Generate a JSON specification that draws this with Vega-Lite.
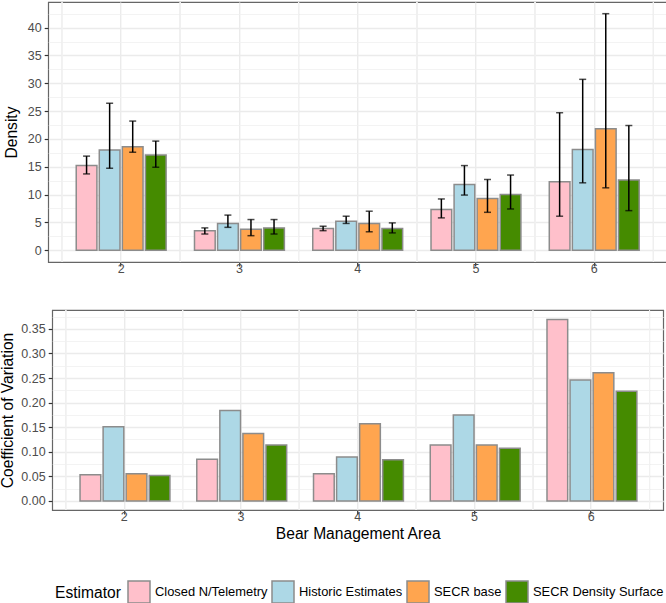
{
  "$schema": "https://vega.github.io/schema/vega-lite/v6.json",
  "padding": {"left": 0, "top": 1, "right": 2, "bottom": 0},
  "background": "white",
  "spacing": 33,
  "center": true,
  "bounds": "full",
  "config": {
    "font": "Liberation Sans",
    "view": {"stroke": "#666666", "strokeWidth": 1.2},
    "axis": {
      "labelFont": "Liberation Sans",
      "labelFontSize": 12.5,
      "labelColor": "#4D4D4D",
      "labelOverlap": false,
      "titleFont": "Liberation Sans",
      "titleFontSize": 15.6,
      "titleFontWeight": "normal",
      "titleColor": "#000000",
      "domain": false,
      "tickColor": "#333333",
      "tickSize": 4,
      "tickWidth": 1.2,
      "gridColor": "#EBEBEB",
      "gridWidth": 1.4
    },
    "legend": {
      "labelFont": "Liberation Sans",
      "titleFont": "Liberation Sans"
    }
  },
  "data": {
    "values": [
      {"bma": "2", "est": "Closed N/Telemetry", "density": 15.2, "lo": 13.7, "hi": 16.9, "cv": 0.053},
      {"bma": "2", "est": "Historic Estimates", "density": 18.0, "lo": 14.7, "hi": 26.4, "cv": 0.151},
      {"bma": "2", "est": "SECR base", "density": 18.6, "lo": 17.6, "hi": 23.2, "cv": 0.0555},
      {"bma": "2", "est": "SECR Density Surface", "density": 17.1, "lo": 14.9, "hi": 19.6, "cv": 0.0515},
      {"bma": "3", "est": "Closed N/Telemetry", "density": 3.5, "lo": 2.9, "hi": 4.0, "cv": 0.0846},
      {"bma": "3", "est": "Historic Estimates", "density": 4.8, "lo": 4.1, "hi": 6.3, "cv": 0.184},
      {"bma": "3", "est": "SECR base", "density": 3.75, "lo": 2.6, "hi": 5.5, "cv": 0.137},
      {"bma": "3", "est": "SECR Density Surface", "density": 4.0, "lo": 2.9, "hi": 5.5, "cv": 0.114},
      {"bma": "4", "est": "Closed N/Telemetry", "density": 3.9, "lo": 3.5, "hi": 4.3, "cv": 0.0555},
      {"bma": "4", "est": "Historic Estimates", "density": 5.2, "lo": 4.8, "hi": 6.1, "cv": 0.0894},
      {"bma": "4", "est": "SECR base", "density": 4.8, "lo": 3.3, "hi": 7.0, "cv": 0.157},
      {"bma": "4", "est": "SECR Density Surface", "density": 3.9, "lo": 3.1, "hi": 4.9, "cv": 0.084},
      {"bma": "5", "est": "Closed N/Telemetry", "density": 7.3, "lo": 5.8, "hi": 9.2, "cv": 0.114},
      {"bma": "5", "est": "Historic Estimates", "density": 11.8, "lo": 9.9, "hi": 15.2, "cv": 0.175},
      {"bma": "5", "est": "SECR base", "density": 9.3, "lo": 6.8, "hi": 12.7, "cv": 0.114},
      {"bma": "5", "est": "SECR Density Surface", "density": 10.0, "lo": 7.4, "hi": 13.5, "cv": 0.107},
      {"bma": "6", "est": "Closed N/Telemetry", "density": 12.3, "lo": 6.1, "hi": 24.7, "cv": 0.369},
      {"bma": "6", "est": "Historic Estimates", "density": 18.1, "lo": 12.1, "hi": 30.7, "cv": 0.246},
      {"bma": "6", "est": "SECR base", "density": 21.8, "lo": 11.2, "hi": 42.5, "cv": 0.261},
      {"bma": "6", "est": "SECR Density Surface", "density": 12.6, "lo": 7.1, "hi": 22.4, "cv": 0.223}
    ]
  },
  "vconcat": [
    {
      "width": 619,
      "height": 260,
      "layer": [
        {
          "mark": {"type": "rule", "color": "#F0F0F0", "strokeWidth": 0.8},
          "encoding": {
            "x": {"field": "bma", "type": "ordinal", "bandPosition": 0, "scale": {"paddingInner": 0, "paddingOuter": 0.117}}
          }
        },
        {
          "mark": {"type": "rule", "color": "#F0F0F0", "strokeWidth": 0.8},
          "encoding": {
            "x": {"field": "bma", "type": "ordinal", "bandPosition": 1}
          }
        },
        {
          "mark": {"type": "bar", "stroke": "#8C8C8C", "strokeWidth": 1.5},
          "encoding": {
            "x": {"field": "bma", "type": "ordinal", "title": null,
              "axis": {"labelAngle": 0, "labelAlign": "center", "labelPadding": 2, "grid": true}},
            "xOffset": {"field": "est", "type": "nominal",
              "sort": ["Closed N/Telemetry", "Historic Estimates", "SECR base", "SECR Density Surface"],
              "scale": {"paddingInner": 0.103, "paddingOuter": 0.615}},
            "y": {"field": "density", "type": "quantitative", "title": "Density",
              "scale": {"domain": [-2.13, 44.6], "nice": false, "zero": false},
              "axis": {
                "values": [0, 2.5, 5, 7.5, 10, 12.5, 15, 17.5, 20, 22.5, 25, 27.5, 30, 32.5, 35, 37.5, 40, 42.5],
                "labelExpr": "datum.value % 5 == 0 ? datum.label : ''",
                "labelOverlap": false,
                "tickOpacity": {"condition": {"test": "datum.value % 5 != 0", "value": 0}, "value": 1},
                "gridWidth": {"condition": {"test": "datum.value % 5 != 0", "value": 0.8}, "value": 1.4},
                "gridColor": {"condition": {"test": "datum.value % 5 != 0", "value": "#F0F0F0"}, "value": "#EBEBEB"},
                "labelPadding": 3,
                "titlePadding": 8
              }},
            "fill": {"field": "est", "type": "nominal",
              "scale": {"domain": ["Closed N/Telemetry", "Historic Estimates", "SECR base", "SECR Density Surface"],
                "range": ["#FFC0CB", "#ADD8E6", "#FFA54F", "#458B00"]},
              "legend": {
                "title": "Estimator",
                "orient": "none",
                "direction": "horizontal",
                "legendX": 7,
                "legendY": 578,
                "titleOrient": "left",
                "titleFontSize": 15.6,
                "titleFontWeight": "normal",
                "titleColor": "#000000",
                "titlePadding": 6,
                "titleBaseline": "middle",
                "labelFontSize": 12.9,
                "labelColor": "#000000",
                "labelOffset": 4,
                "columnPadding": 1,
                "symbolType": "square",
                "symbolSize": 484,
                "symbolStrokeColor": "#8C8C8C",
                "symbolStrokeWidth": 1.5,
                "symbolOpacity": 1
              }}
          }
        },
        {
          "mark": {"type": "rule", "color": "#000000", "strokeWidth": 1.5},
          "encoding": {
            "x": {"field": "bma", "type": "ordinal"},
            "xOffset": {"field": "est", "type": "nominal", "sort": ["Closed N/Telemetry", "Historic Estimates", "SECR base", "SECR Density Surface"]},
            "y": {"field": "lo", "type": "quantitative", "title": "Density",
              "axis": {
                "values": [0, 2.5, 5, 7.5, 10, 12.5, 15, 17.5, 20, 22.5, 25, 27.5, 30, 32.5, 35, 37.5, 40, 42.5],
                "labelExpr": "datum.value % 5 == 0 ? datum.label : ''",
                "labelOverlap": false,
                "tickOpacity": {"condition": {"test": "datum.value % 5 != 0", "value": 0}, "value": 1},
                "gridWidth": {"condition": {"test": "datum.value % 5 != 0", "value": 0.8}, "value": 1.4},
                "gridColor": {"condition": {"test": "datum.value % 5 != 0", "value": "#F0F0F0"}, "value": "#EBEBEB"},
                "labelPadding": 3,
                "titlePadding": 8
              }},
            "y2": {"field": "hi"}
          }
        },
        {
          "mark": {"type": "tick", "color": "#000000", "thickness": 1.5, "size": 7, "orient": "horizontal"},
          "encoding": {
            "x": {"field": "bma", "type": "ordinal"},
            "xOffset": {"field": "est", "type": "nominal", "sort": ["Closed N/Telemetry", "Historic Estimates", "SECR base", "SECR Density Surface"]},
            "y": {"field": "lo", "type": "quantitative", "title": "Density",
              "axis": {
                "values": [0, 2.5, 5, 7.5, 10, 12.5, 15, 17.5, 20, 22.5, 25, 27.5, 30, 32.5, 35, 37.5, 40, 42.5],
                "labelExpr": "datum.value % 5 == 0 ? datum.label : ''",
                "labelOverlap": false,
                "tickOpacity": {"condition": {"test": "datum.value % 5 != 0", "value": 0}, "value": 1},
                "gridWidth": {"condition": {"test": "datum.value % 5 != 0", "value": 0.8}, "value": 1.4},
                "gridColor": {"condition": {"test": "datum.value % 5 != 0", "value": "#F0F0F0"}, "value": "#EBEBEB"},
                "labelPadding": 3,
                "titlePadding": 8
              }}
          }
        },
        {
          "mark": {"type": "tick", "color": "#000000", "thickness": 1.5, "size": 7, "orient": "horizontal"},
          "encoding": {
            "x": {"field": "bma", "type": "ordinal"},
            "xOffset": {"field": "est", "type": "nominal", "sort": ["Closed N/Telemetry", "Historic Estimates", "SECR base", "SECR Density Surface"]},
            "y": {"field": "hi", "type": "quantitative", "title": "Density",
              "axis": {
                "values": [0, 2.5, 5, 7.5, 10, 12.5, 15, 17.5, 20, 22.5, 25, 27.5, 30, 32.5, 35, 37.5, 40, 42.5],
                "labelExpr": "datum.value % 5 == 0 ? datum.label : ''",
                "labelOverlap": false,
                "tickOpacity": {"condition": {"test": "datum.value % 5 != 0", "value": 0}, "value": 1},
                "gridWidth": {"condition": {"test": "datum.value % 5 != 0", "value": 0.8}, "value": 1.4},
                "gridColor": {"condition": {"test": "datum.value % 5 != 0", "value": "#F0F0F0"}, "value": "#EBEBEB"},
                "labelPadding": 3,
                "titlePadding": 8
              }}
          }
        }
      ]
    },
    {
      "width": 611,
      "height": 200,
      "layer": [
        {
          "mark": {"type": "rule", "color": "#F0F0F0", "strokeWidth": 0.8},
          "encoding": {
            "x": {"field": "bma", "type": "ordinal", "bandPosition": 0, "scale": {"paddingInner": 0, "paddingOuter": 0.117}}
          }
        },
        {
          "mark": {"type": "rule", "color": "#F0F0F0", "strokeWidth": 0.8},
          "encoding": {
            "x": {"field": "bma", "type": "ordinal", "bandPosition": 1}
          }
        },
        {
          "mark": {"type": "bar", "stroke": "#8C8C8C", "strokeWidth": 1.5},
          "encoding": {
            "x": {"field": "bma", "type": "ordinal", "title": "Bear Management Area",
              "axis": {"labelAngle": 0, "labelAlign": "center", "labelPadding": 2, "titlePadding": 4, "grid": true}},
            "xOffset": {"field": "est", "type": "nominal",
              "sort": ["Closed N/Telemetry", "Historic Estimates", "SECR base", "SECR Density Surface"],
              "scale": {"paddingInner": 0.103, "paddingOuter": 0.615}},
            "y": {"field": "cv", "type": "quantitative", "title": "Coefficient of Variation",
              "scale": {"domain": [-0.0185, 0.3885], "nice": false, "zero": false},
              "axis": {
                "values": [0, 0.025, 0.05, 0.075, 0.1, 0.125, 0.15, 0.175, 0.2, 0.225, 0.25, 0.275, 0.3, 0.325, 0.35, 0.375],
                "format": ".2f",
                "labelExpr": "round(datum.value * 1000) % 50 == 0 ? datum.label : ''",
                "labelOverlap": false,
                "tickOpacity": {"condition": {"test": "round(datum.value * 1000) % 50 != 0", "value": 0}, "value": 1},
                "gridWidth": {"condition": {"test": "round(datum.value * 1000) % 50 != 0", "value": 0.8}, "value": 1.4},
                "gridColor": {"condition": {"test": "round(datum.value * 1000) % 50 != 0", "value": "#F0F0F0"}, "value": "#EBEBEB"},
                "labelPadding": 3,
                "titlePadding": 5
              }},
            "fill": {"field": "est", "type": "nominal"}
          }
        }
      ]
    }
  ]
}
